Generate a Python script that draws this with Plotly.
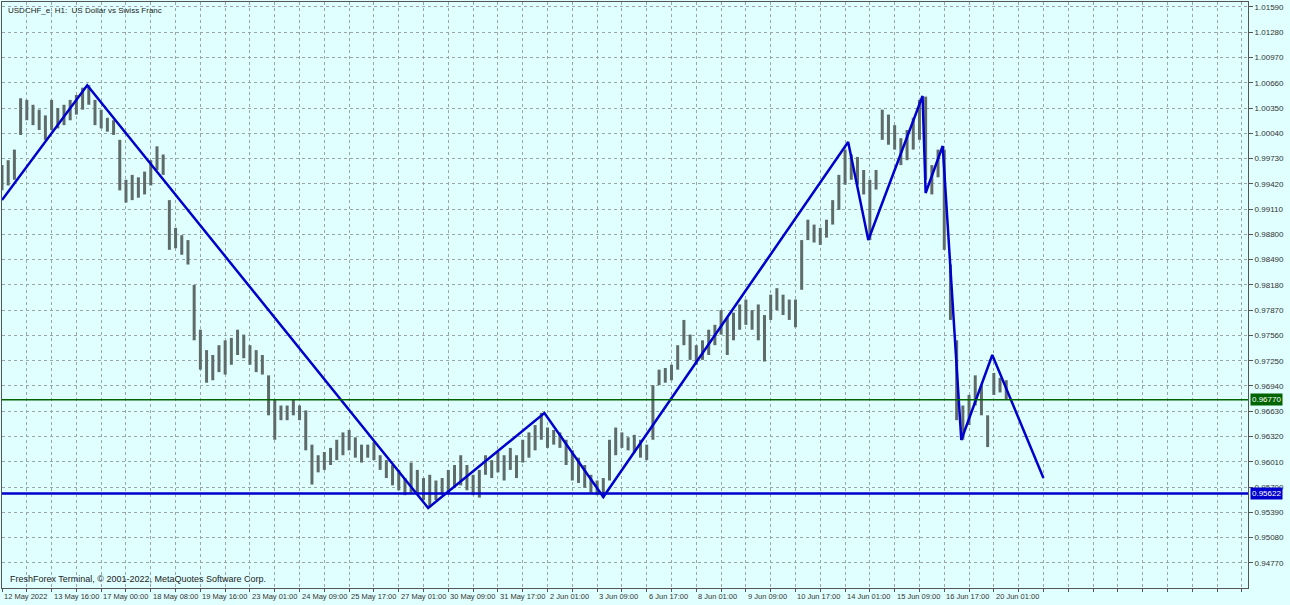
import plotly.graph_objects as go

# H1 bars sampled every 4 hours (bar index = 4 * i)
highs = [0.9965, 0.9971, 0.9984, 1.0047, 1.0045, 1.0039, 1.0033, 1.0026, 1.0045, 1.0035,
         1.0039, 1.0045, 1.0051, 1.0060, 1.0063, 1.0045, 1.0033, 1.0023, 1.0020, 0.9996,
         0.9947, 0.9953, 0.9950, 0.9957, 0.9971, 0.9988, 0.9978, 0.9922, 0.9888, 0.9879,
         0.9873, 0.9818, 0.9763, 0.9738, 0.9732, 0.9744, 0.9750, 0.9753, 0.9763, 0.9757,
         0.9744, 0.9738, 0.9732, 0.9707, 0.9677, 0.9670, 0.9670, 0.9677, 0.9670, 0.9664,
         0.9622, 0.9609, 0.9613, 0.9618, 0.9628, 0.9637, 0.9640, 0.9631, 0.9622, 0.9622,
         0.9625, 0.9609, 0.9603, 0.9597, 0.9591, 0.9581, 0.9600, 0.9591, 0.9581, 0.9585,
         0.9578, 0.9581, 0.9591, 0.9597, 0.9609, 0.9597, 0.9585, 0.9591, 0.9609, 0.9603,
         0.9613, 0.9609, 0.9618, 0.9609, 0.9628, 0.9637, 0.9646, 0.9661, 0.9643, 0.9640,
         0.9637, 0.9628, 0.9615, 0.9606, 0.9597, 0.9585, 0.9578, 0.9581, 0.9628, 0.9643,
         0.9637, 0.9631, 0.9634, 0.9628, 0.9622, 0.9695, 0.9714, 0.9716, 0.9720, 0.9744,
         0.9775, 0.9757, 0.9744, 0.9750, 0.9763, 0.9769, 0.9787, 0.9778, 0.9784, 0.9794,
         0.9800, 0.9787, 0.9794, 0.9781, 0.9806, 0.9814, 0.9806, 0.9800, 0.9800, 0.9873,
         0.9898, 0.9892, 0.9888, 0.9898, 0.9922, 0.9953, 0.9984, 0.9978, 0.9975, 0.9959,
         0.9947, 0.9959, 1.0033, 1.0027, 1.0014, 0.9998, 1.0008, 1.0023, 1.0045, 1.0049,
         0.9965, 0.9984, 0.9984, 0.9843, 0.9750, 0.9670, 0.9683, 0.9707, 0.9695, 0.9658,
         0.9710, 0.9704, 0.9701]
lows = [0.9934, 0.9940, 0.9947, 1.0002, 1.0020, 1.0014, 1.0008, 0.9996, 1.0008, 1.0010,
        1.0014, 1.0020, 1.0027, 1.0033, 1.0039, 1.0014, 1.0010, 1.0006, 1.0002, 0.9934,
        0.9919, 0.9922, 0.9925, 0.9929, 0.9940, 0.9959, 0.9953, 0.9861, 0.9863, 0.9855,
        0.9843, 0.9750, 0.9714, 0.9698, 0.9701, 0.9711, 0.9708, 0.9720, 0.9732, 0.9728,
        0.9720, 0.9711, 0.9708, 0.9658, 0.9628, 0.9652, 0.9652, 0.9658, 0.9652, 0.9615,
        0.9573, 0.9588, 0.9591, 0.9597, 0.9603, 0.9609, 0.9615, 0.9606, 0.9600, 0.9606,
        0.9603, 0.9591, 0.9581, 0.9572, 0.9566, 0.9560, 0.9563, 0.9560, 0.9554, 0.9545,
        0.9554, 0.9560, 0.9563, 0.9569, 0.9572, 0.9566, 0.9560, 0.9557, 0.9585, 0.9581,
        0.9588, 0.9578, 0.9591, 0.9581, 0.9600, 0.9606, 0.9615, 0.9628, 0.9618, 0.9622,
        0.9618, 0.9597, 0.9578, 0.9575, 0.9569, 0.9563, 0.9560, 0.9557, 0.9578, 0.9609,
        0.9618, 0.9615, 0.9612, 0.9606, 0.9603, 0.9628, 0.9695, 0.9698, 0.9701, 0.9714,
        0.9744, 0.9726, 0.9720, 0.9726, 0.9732, 0.9744, 0.9757, 0.9732, 0.9750, 0.9763,
        0.9769, 0.9763, 0.9750, 0.9724, 0.9775, 0.9787, 0.9781, 0.9775, 0.9766, 0.9812,
        0.9873, 0.9870, 0.9867, 0.9876, 0.9892, 0.9910, 0.9941, 0.9947, 0.9941, 0.9929,
        0.9873, 0.9935, 0.9996, 0.9990, 0.9984, 0.9965, 0.9971, 0.9984, 0.9996, 0.9947,
        0.9929, 0.9950, 0.9861, 0.9775, 0.9652, 0.9628, 0.9646, 0.9670, 0.9658, 0.9619,
        0.9683, 0.9686, 0.9677]
bar_step = 4

# zigzag turning points (bar index, price)
zz_bars = [0, 55, 275, 350, 388, 546, 559, 594, 596, 607, 619, 639, 672]
zz_prices = [0.99221, 1.0063, 0.95442, 0.96608, 0.95577, 0.99933, 0.98731, 1.00498,
             0.99307, 0.99884, 0.96277, 0.97320, 0.95810]

green_level = 0.96770
blue_level = 0.95622

time_labels = ["12 May 2022", "13 May 16:00", "17 May 00:00", "18 May 08:00", "19 May 16:00",
               "23 May 01:00", "24 May 09:00", "25 May 17:00", "27 May 01:00", "30 May 09:00",
               "31 May 17:00", "2 Jun 01:00", "3 Jun 09:00", "6 Jun 17:00", "8 Jun 01:00",
               "9 Jun 09:00", "10 Jun 17:00", "14 Jun 01:00", "15 Jun 09:00", "16 Jun 17:00",
               "20 Jun 01:00"]
label_step = 32

price_ticks = [round(0.94770 + 0.0031 * k, 5) for k in range(23)]

font = "Liberation Sans"
bg = "#E0FFFF"

# build bar segments
bx, by = [], []
for i, (h, l) in enumerate(zip(highs, lows)):
    b = i * bar_step
    bx += [b, b, None]
    by += [l, h, None]

fig = go.Figure()
fig.add_trace(go.Scatter(x=bx, y=by, mode="lines", line=dict(color="#5f6b69", width=3),
                         hoverinfo="skip"))
fig.add_trace(go.Scatter(x=zz_bars, y=zz_prices, mode="lines",
                         line=dict(color="#0000CC", width=2.5)))

fig.add_hline(y=green_level, line=dict(color="#006400", width=1.5))
fig.add_hline(y=blue_level, line=dict(color="#0000CC", width=2.5))

x_max = 804
fig.update_xaxes(range=[0, x_max], tickvals=list(range(0, x_max, 16)), showticklabels=False,
                 ticks="outside", ticklen=3, tickcolor="#555",
                 showgrid=True, gridcolor="#9aa6a6", griddash="dot", gridwidth=1,
                 showline=True, linecolor="#555", linewidth=1, mirror=True, zeroline=False)
fig.update_yaxes(range=[0.94461, 1.01651], side="right", tickvals=price_ticks,
                 ticktext=[f"{p:.5f}" for p in price_ticks], automargin=False,
                 ticks="outside", ticklen=4, tickcolor="#555",
                 tickfont=dict(size=8, color="#333", family=font),
                 showgrid=True, gridcolor="#9aa6a6", griddash="dot", gridwidth=1,
                 showline=True, linecolor="#555", linewidth=1, mirror=True, zeroline=False)

ann = []
for k, t in enumerate(time_labels):
    ann.append(dict(x=k * label_step, y=0, xref="x", yref="paper", yshift=-2, text=t,
                    showarrow=False, xanchor="left", yanchor="top",
                    font=dict(size=7.5, color="#333", family=font)))
ann.append(dict(x=0.003, y=0.997, xref="paper", yref="paper", text="USDCHF_e, H1:  US Dollar vs Swiss Franc",
                showarrow=False, xanchor="left", yanchor="top", font=dict(size=8, color="#222", family=font)))
ann.append(dict(x=0.005, y=0.003, xref="paper", yref="paper",
                text="FreshForex Terminal, © 2001-2022, MetaQuotes Software Corp.",
                showarrow=False, xanchor="left", yanchor="bottom", font=dict(size=9, color="#222", family=font)))
ann.append(dict(x=1, y=green_level, xref="paper", yref="y", xshift=2, text="0.96770", showarrow=False,
                xanchor="left", bgcolor="#006400", font=dict(size=8, color="white", family=font), borderpad=1))
ann.append(dict(x=1, y=blue_level, xref="paper", yref="y", xshift=2, text="0.95622", showarrow=False,
                xanchor="left", bgcolor="#0000CC", font=dict(size=8, color="white", family=font), borderpad=1))

fig.update_layout(width=1290, height=605, paper_bgcolor=bg, plot_bgcolor=bg,
                  margin=dict(l=2, r=42, t=2, b=17), showlegend=False, annotations=ann)

fig.write_html("out.html", config={"displayModeBar": False},
               post_script="document.body.style.margin='0';")
